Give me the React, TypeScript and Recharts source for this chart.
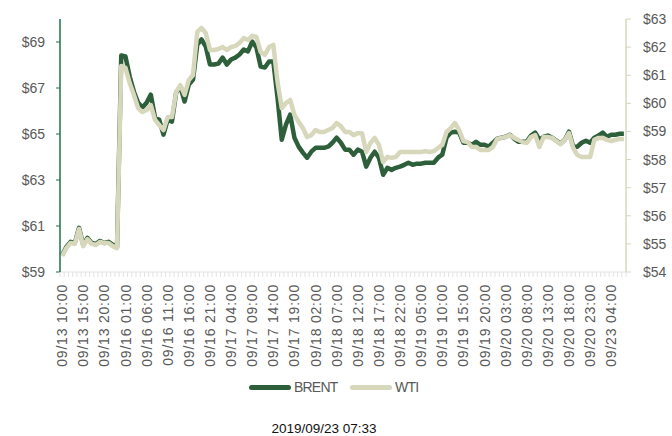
import { LineChart, Line, XAxis, YAxis } from 'recharts';

// Brent vs WTI hourly prices, 09/13 – 09/23 (trading hours only)

const tickLabels = [
  '09/13 10:00', '09/13 15:00', '09/13 20:00', '09/16 01:00', '09/16 06:00',
  '09/16 11:00', '09/16 16:00', '09/16 21:00', '09/17 04:00', '09/17 09:00',
  '09/17 14:00', '09/17 19:00', '09/18 02:00', '09/18 07:00', '09/18 12:00',
  '09/18 17:00', '09/18 22:00', '09/19 05:00', '09/19 10:00', '09/19 15:00',
  '09/19 20:00', '09/20 03:00', '09/20 08:00', '09/20 13:00', '09/20 18:00',
  '09/20 23:00', '09/23 04:00',
];

const brent = [
  59.74, 60.09, 60.31, 60.26, 60.92, 60.18, 60.48, 60.26, 60.22, 60.35, 60.26, 60.31, 60.18, 60.09,
  68.41, 68.37, 67.5, 66.84, 66.36, 66.15, 66.36, 66.71, 65.71, 65.62,
  64.97, 65.62, 65.54, 66.8, 67.06, 66.41, 67.15, 67.37, 68.89, 69.11,
  68.8, 68.02, 68.02, 68.06, 68.32, 68.02, 68.24, 68.32, 68.46, 68.67,
  68.59, 69.02, 68.76, 67.93, 67.89, 68.15, 68.15, 66.58, 64.75, 65.41,
  65.84, 64.84, 64.45, 64.19, 63.97, 64.23, 64.4, 64.4, 64.4, 64.45,
  64.62, 64.84, 64.62, 64.32, 64.32, 64.1, 64.32, 64.23, 63.58, 63.97,
  64.23, 63.97, 63.23, 63.53, 63.44, 63.53, 63.58, 63.66, 63.75, 63.66,
  63.71, 63.71, 63.75, 63.75, 63.75, 63.97, 64.1, 64.84, 65.06, 65.1,
  65.06, 64.62, 64.62, 64.53, 64.66, 64.53, 64.53, 64.45, 64.62, 64.8,
  64.84, 64.88, 64.97, 64.8, 64.66, 64.66, 64.66, 64.93, 65.06, 64.75,
  64.88, 64.93, 64.84, 64.71, 64.58, 64.75, 65.1, 64.45, 64.45, 64.62,
  64.71, 64.62, 64.84, 64.93, 65.06, 64.88, 64.97, 64.97, 65.01, 65.01,
];

const wti = [
  54.57, 54.85, 55.03, 55.0, 55.53, 54.92, 55.17, 55.0, 54.96, 55.07, 55.03, 55.03, 54.92, 54.85,
  61.33, 61.26, 60.72, 60.3, 59.83, 59.69, 59.76, 59.94, 59.41, 59.23,
  59.05, 59.51, 59.51, 60.4, 60.65, 60.3, 60.83, 61.01, 62.54, 62.68,
  62.5, 61.9, 61.9, 61.93, 62.0, 61.9, 62.0, 62.04, 62.15, 62.32,
  62.25, 62.4, 62.36, 61.83, 61.72, 62.0, 62.08, 60.76, 59.83, 60.01,
  60.12, 59.59, 59.34, 59.12, 58.8, 58.87, 59.05, 58.98, 58.98, 59.05,
  59.12, 59.3, 59.19, 58.98, 58.98, 58.87, 58.94, 58.94, 58.27, 58.59,
  58.77, 58.52, 57.91, 58.09, 58.06, 58.09, 58.27, 58.27, 58.27, 58.27,
  58.27, 58.27, 58.3, 58.27, 58.3, 58.41, 58.52, 58.98, 59.12, 59.3,
  59.05, 58.66, 58.62, 58.45, 58.45, 58.34, 58.34, 58.34, 58.45, 58.73,
  58.77, 58.8, 58.87, 58.77, 58.7, 58.62, 58.59, 58.8, 58.87, 58.45,
  58.8, 58.8, 58.77, 58.66, 58.55, 58.7, 58.94, 58.41, 58.16, 58.09,
  58.09, 58.09, 58.7, 58.77, 58.77, 58.7, 58.66, 58.7, 58.73, 58.73,
];

const brentTicks = [59, 61, 63, 65, 67, 69];
const wtiTicks = [54, 55, 56, 57, 58, 59, 60, 61, 62, 63];

const GREEN = '#2e5f3b';
const BEIGE = '#d7d7bb';
const AXIS_GREEN = '#1f6f4a';
const TEXT = '#595959';
const FONT = '"Liberation Sans", Arial, sans-serif';

const rows = brent.map((b, i) => ({ i, brent: b, wti: wti[i] }));

// every 5th category gets a label; tick marks sit between categories
const labelTicks = tickLabels.map((_, k) => k * 5);
const combTicks = [...rows.map((r) => r.i - 0.5), rows.length - 0.5];
const xTicks = [...combTicks, ...labelTicks];

function XTick({ x, y, payload }: any) {
  const v = payload.value as number;
  if (!Number.isInteger(v)) {
    return <line x1={x} x2={x} y1={y - 12} y2={y - 7} stroke="#e3e3e3" strokeWidth={1} />;
  }
  const label = tickLabels[v / 5];
  if (!label) return null;
  return (
    <text
      x={x}
      y={y}
      dy="0.36em"
      transform={`rotate(-90, ${x}, ${y})`}
      textAnchor="end"
      fill={TEXT}
      fontSize={14}
      letterSpacing={0.8}
      fontFamily={FONT}
    >
      {label}
    </text>
  );
}

const dollar = (v: number) => `$${v}`;

export default function App() {
  return (
    <div style={{ position: 'absolute', left: 0, top: 0, width: 672, height: 436, background: '#fff', fontFamily: FONT, overflow: 'hidden' }}>
      <LineChart
        width={672}
        height={436}
        data={rows}
        margin={{ top: 19, right: 0, bottom: 64, left: 0 }}
      >
        <XAxis
          xAxisId="x"
          type="number"
          dataKey="i"
          domain={[-0.5, rows.length - 0.5]}
          ticks={xTicks}
          interval={0}
          tick={<XTick />}
          tickLine={false}
          tickSize={5}
          tickMargin={7}
          axisLine={{ stroke: '#e3e3e3' }}
          height={100}
        />
        <YAxis
          yAxisId="brent"
          orientation="left"
          width={60}
          domain={[59, 70]}
          ticks={brentTicks}
          interval={0}
          tickFormatter={dollar}
          axisLine={{ stroke: AXIS_GREEN, strokeWidth: 1.5 }}
          tickLine={{ stroke: AXIS_GREEN }}
          tickSize={4}
          tickMargin={11}
          tick={{ fill: TEXT, fontSize: 14, fontFamily: FONT }}
        />
        <YAxis
          yAxisId="wti"
          orientation="right"
          width={46}
          domain={[54, 63]}
          ticks={wtiTicks}
          interval={0}
          tickFormatter={dollar}
          axisLine={{ stroke: BEIGE, strokeWidth: 1.5 }}
          tickLine={{ stroke: BEIGE }}
          tickSize={5}
          tickMargin={12}
          tick={{ fill: TEXT, fontSize: 14, fontFamily: FONT }}
        />
        <Line
          xAxisId="x"
          yAxisId="brent"
          type="linear"
          dataKey="brent"
          name="BRENT"
          stroke={GREEN}
          strokeWidth={4.5}
          strokeLinejoin="round"
          dot={false}
          activeDot={false}
          isAnimationActive={false}
        />
        <Line
          xAxisId="x"
          yAxisId="wti"
          type="linear"
          dataKey="wti"
          name="WTI"
          stroke={BEIGE}
          strokeWidth={4.5}
          strokeLinejoin="round"
          dot={false}
          activeDot={false}
          isAnimationActive={false}
        />
      </LineChart>

      {/* legend */}
      <div style={{ position: 'absolute', left: 249, top: 378, height: 18, display: 'flex', alignItems: 'center', color: TEXT, fontSize: 14, letterSpacing: -0.8 }}>
        <span style={{ display: 'inline-block', width: 42, height: 5, borderRadius: 3, background: GREEN, marginRight: 3 }} />
        <span style={{ width: 56 }}>BRENT</span>
        <span style={{ display: 'inline-block', width: 42, height: 5, borderRadius: 3, background: BEIGE, marginRight: 3 }} />
        <span>WTI</span>
      </div>

      {/* timestamp */}
      <div style={{ position: 'absolute', left: 0, width: 648, top: 422, textAlign: 'center', fontSize: 13.5, color: '#111', lineHeight: '13px' }}>
        2019/09/23 07:33
      </div>
    </div>
  );
}
